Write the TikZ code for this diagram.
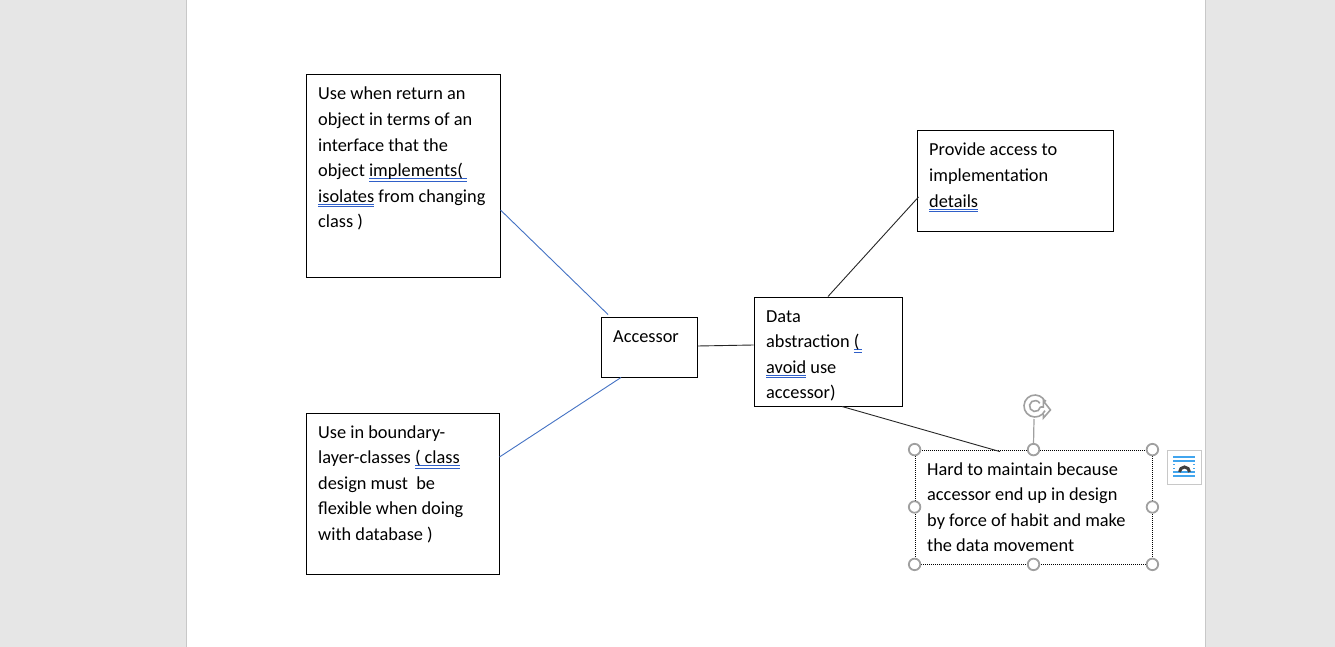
\documentclass[tikz,border=0pt]{standalone}
\usepackage{fontspec}
\setmainfont{Carlito}
\usetikzlibrary{arrows.meta,calc}
\definecolor{ulblue}{HTML}{2F5FC8}
\definecolor{linkblue}{HTML}{4472C4}
\definecolor{pagegray}{HTML}{E6E6E6}
\definecolor{edgegray}{HTML}{C8C8C8}
\definecolor{handlegray}{HTML}{A0A0A0}
\definecolor{iconblue}{HTML}{41A5EE}
\newsavebox\dulbox
\newcommand\dul[1]{\sbox\dulbox{#1}\rlap{\color{ulblue}\rule[-2.4pt]{\wd\dulbox}{0.9pt}}\rlap{\color{ulblue}\rule[-4.9pt]{\wd\dulbox}{0.9pt}}\usebox\dulbox}
\newcommand\txtlines[1]{\vtop{\baselineskip=25.6pt\lineskiplimit=-100pt #1}}
\begin{document}
\begin{tikzpicture}[x=1pt,y=-1pt,
  box/.style={draw=black,line width=1pt,rectangle,inner sep=0pt,fill=white},
  txt/.style={inner sep=0pt,anchor=base west,font=\fontsize{18.33}{25.6}\selectfont,text=black},
  bluelink/.style={draw=linkblue,line width=0.9pt},
  blacklink/.style={draw=black!85,line width=0.9pt},
  handle/.style={circle,draw=handlegray,line width=1.8pt,fill=white,minimum size=11.5pt,inner sep=0pt}]
\useasboundingbox (0,0) rectangle (1335,647);
% page
\fill[pagegray] (0,0) rectangle (1335,647);
\fill[white] (187,0) rectangle (1205,647);
\draw[edgegray,line width=1pt] (186.5,0) -- (186.5,647);
\draw[edgegray,line width=1pt] (1205.5,0) -- (1205.5,647);
% boxes
\node[box,minimum width=194pt,minimum height=202pt] (A) at (403,176) {};
\node[box,minimum width=193pt,minimum height=161pt] (B) at (402.5,493.5) {};
\node[box,minimum width=96pt,minimum height=60pt] (Acc) at (649,347) {};
\node[box,minimum width=148pt,minimum height=109pt] (Data) at (828,351.5) {};
\node[box,minimum width=196pt,minimum height=100pt] (Prov) at (1015,181) {};
\node[rectangle,inner sep=0pt,fill=white,draw=black,line width=0.8pt,dash pattern=on 1pt off 1pt,minimum width=237pt,minimum height=114pt] (Hard) at (1033.5,507) {};
% connectors
\draw[bluelink] ([yshift=-34pt]A.east) -- ([xshift=-41pt,yshift=2pt]Acc.north);
\draw[bluelink] ([yshift=36.5pt]B.east) -- ([xshift=-28pt]Acc.south);
\draw[blacklink] ([yshift=1pt]Acc.east) -- ([yshift=6.5pt]Data.west);
\draw[blacklink] (Data.north) -- ([xshift=2pt,yshift=-16pt]Prov.west);
\draw[blacklink] ([xshift=14pt]Data.south) -- ([xshift=-33.5pt,yshift=-2pt]Hard.north);
% texts
\node[txt] (Atext) at (318,100) {\txtlines{\hbox{Use when return an}\hbox{object in terms of an}\hbox{interface that the}\hbox{object \dul{implements(\ }}\hbox{\dul{isolates} from changing}\hbox{class )}}};
\node[txt] (Btext) at (318,438) {\txtlines{\hbox{Use in boundary-}\hbox{layer-classes \dul{( class}}\hbox{design must \ be}\hbox{flexible when doing}\hbox{with database )}}};
\node[txt] (Acctext) at (613,342) {Accessor};
\node[txt] (Datatext) at (766,322) {\txtlines{\hbox{Data}\hbox{abstraction \dul{(\,}}\hbox{\dul{avoid} use}\hbox{accessor)}}};
\node[txt] (Provtext) at (929,156) {\txtlines{\hbox{Provide access to}\hbox{implementation}\hbox{\dul{details}}}};
\node[txt] (Hardtext) at (927,475) {\txtlines{\hbox{Hard to maintain because}\hbox{accessor end up in design}\hbox{by force of habit and make}\hbox{the data movement}}};
% selection handles
\draw[handlegray,line width=1.2pt] ([yshift=5pt]Hard.north) -- (1034,419);
\foreach \a [count=\i] in {north west,north,north east,east,south east,south,south west,west}
  \node[handle] (h\i) at (Hard.\a) {};
% rotation icon
\coordinate (rot) at (1035,406);
\draw[handlegray,line width=1.6pt] ($(rot)+(25:11)$) arc (25:335:11);
\draw[handlegray,line width=1.6pt] ($(rot)+(10:5.5)$) arc (10:330:5.5);
\draw[handlegray,line width=1.6pt] ($(rot)+(10:5.5)$) -- ++(3,0) -- ++(0,-6) -- ++(7,9) -- ++(-7,8) -- ++(0,-4);
\draw[handlegray,line width=1.6pt] ($(rot)+(335:11)$) -- ++(1,-1);
% layout options icon
\node[rectangle,draw=edgegray,line width=1pt,fill=white,minimum size=34pt,inner sep=0pt] (lay) at (1184,467) {};
\foreach \yy in {457,461,472,476}
  \draw[iconblue,line width=1.4pt] (1173,\yy) -- (1195,\yy);
\foreach \yy in {464.5,468.2}
  {\draw[iconblue,line width=1.4pt] (1173,\yy) -- (1175,\yy);
   \draw[iconblue,line width=1.4pt] (1193,\yy) -- (1195,\yy);}
\draw[black!75,line width=3pt] (1179.5,472) arc (180:360:5);
\end{tikzpicture}
\end{document}
